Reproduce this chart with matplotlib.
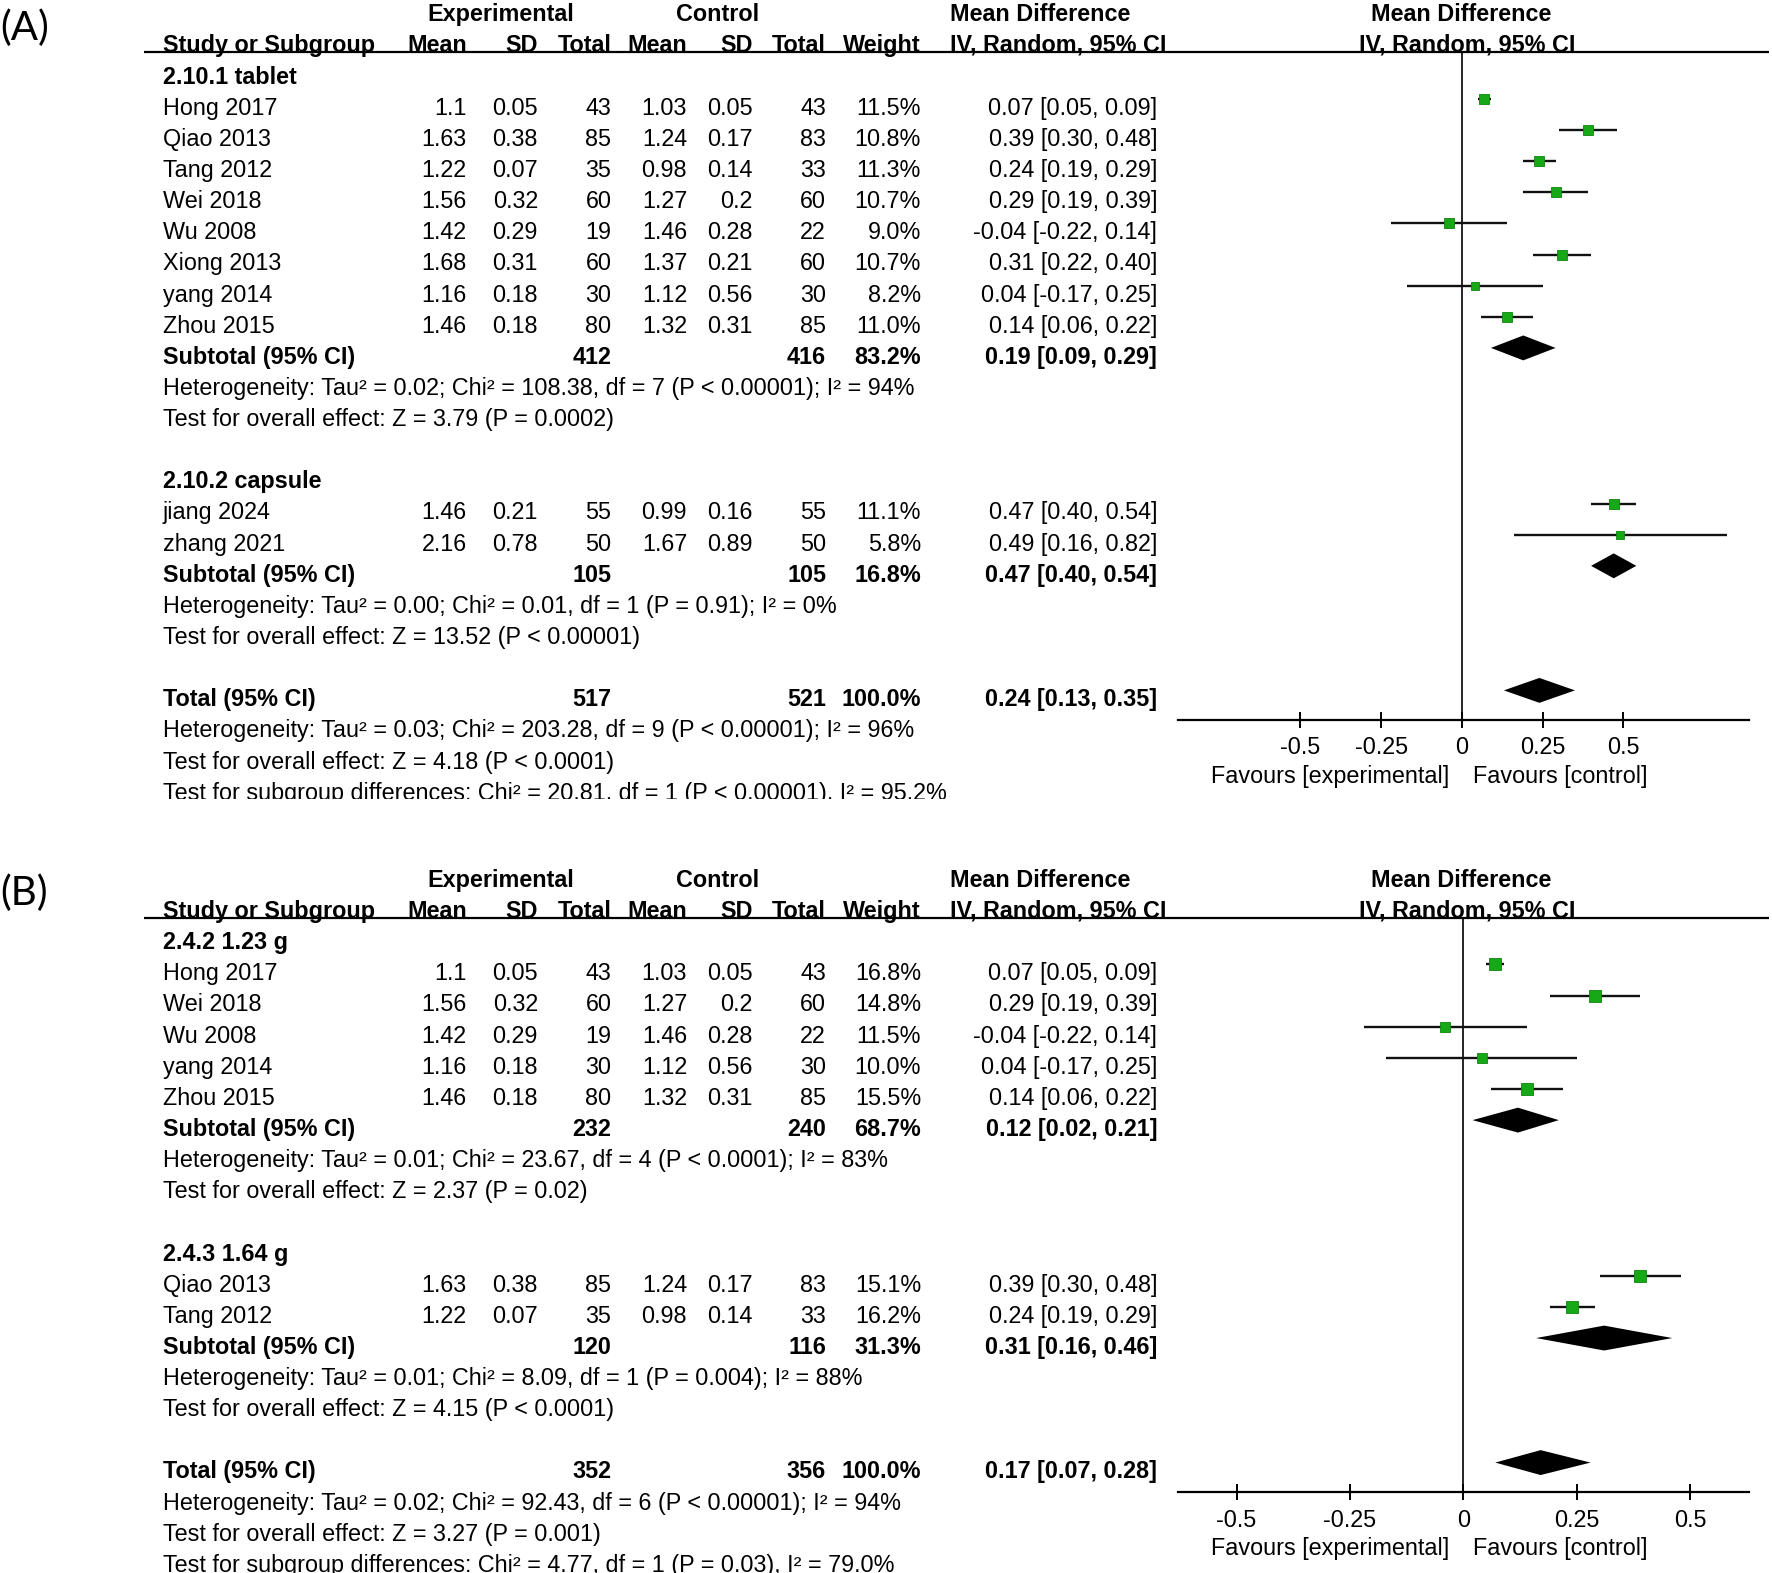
import matplotlib
matplotlib.use("Agg")
import matplotlib.pyplot as plt

plt.rcParams['font.family'] = ['Liberation Sans', 'DejaVu Sans']

# ================= Panel A data =================
A1_title = "2.10.1 tablet"
A1_study = ["Hong 2017", "Qiao 2013", "Tang 2012", "Wei 2018", "Wu 2008", "Xiong 2013", "yang 2014", "Zhou 2015"]
A1_exp_mean = [1.1, 1.63, 1.22, 1.56, 1.42, 1.68, 1.16, 1.46]
A1_exp_sd = [0.05, 0.38, 0.07, 0.32, 0.29, 0.31, 0.18, 0.18]
A1_exp_n = [43, 85, 35, 60, 19, 60, 30, 80]
A1_ctl_mean = [1.03, 1.24, 0.98, 1.27, 1.46, 1.37, 1.12, 1.32]
A1_ctl_sd = [0.05, 0.17, 0.14, 0.2, 0.28, 0.21, 0.56, 0.31]
A1_ctl_n = [43, 83, 33, 60, 22, 60, 30, 85]
A1_weight = [11.5, 10.8, 11.3, 10.7, 9.0, 10.7, 8.2, 11.0]
A1_md = [0.07, 0.39, 0.24, 0.29, -0.04, 0.31, 0.04, 0.14]
A1_lo = [0.05, 0.30, 0.19, 0.19, -0.22, 0.22, -0.17, 0.06]
A1_hi = [0.09, 0.48, 0.29, 0.39, 0.14, 0.40, 0.25, 0.22]
A1_sub_n = [412, 416]
A1_sub_weight = 83.2
A1_sub_ci = [0.19, 0.09, 0.29]
A1_het = "Heterogeneity: Tau² = 0.02; Chi² = 108.38, df = 7 (P < 0.00001); I² = 94%"
A1_z = "Test for overall effect: Z = 3.79 (P = 0.0002)"

A2_title = "2.10.2 capsule"
A2_study = ["jiang 2024", "zhang 2021"]
A2_exp_mean = [1.46, 2.16]
A2_exp_sd = [0.21, 0.78]
A2_exp_n = [55, 50]
A2_ctl_mean = [0.99, 1.67]
A2_ctl_sd = [0.16, 0.89]
A2_ctl_n = [55, 50]
A2_weight = [11.1, 5.8]
A2_md = [0.47, 0.49]
A2_lo = [0.40, 0.16]
A2_hi = [0.54, 0.82]
A2_sub_n = [105, 105]
A2_sub_weight = 16.8
A2_sub_ci = [0.47, 0.40, 0.54]
A2_het = "Heterogeneity: Tau² = 0.00; Chi² = 0.01, df = 1 (P = 0.91); I² = 0%"
A2_z = "Test for overall effect: Z = 13.52 (P < 0.00001)"

A_tot_n = [517, 521]
A_tot_weight = 100.0
A_tot_ci = [0.24, 0.13, 0.35]
A_tot_het = "Heterogeneity: Tau² = 0.03; Chi² = 203.28, df = 9 (P < 0.00001); I² = 96%"
A_tot_z = "Test for overall effect: Z = 4.18 (P < 0.0001)"
A_subdiff = "Test for subgroup differences: Chi² = 20.81, df = 1 (P < 0.00001), I² = 95.2%"
A_ticks = [-0.5, -0.25, 0, 0.25, 0.5]
A_ticklabels = ["-0.5", "-0.25", "0", "0.25", "0.5"]
A_xlim = (-0.88, 0.89)

# ================= Panel B data =================
B1_title = "2.4.2 1.23 g"
B1_study = ["Hong 2017", "Wei 2018", "Wu 2008", "yang 2014", "Zhou 2015"]
B1_exp_mean = [1.1, 1.56, 1.42, 1.16, 1.46]
B1_exp_sd = [0.05, 0.32, 0.29, 0.18, 0.18]
B1_exp_n = [43, 60, 19, 30, 80]
B1_ctl_mean = [1.03, 1.27, 1.46, 1.12, 1.32]
B1_ctl_sd = [0.05, 0.2, 0.28, 0.56, 0.31]
B1_ctl_n = [43, 60, 22, 30, 85]
B1_weight = [16.8, 14.8, 11.5, 10.0, 15.5]
B1_md = [0.07, 0.29, -0.04, 0.04, 0.14]
B1_lo = [0.05, 0.19, -0.22, -0.17, 0.06]
B1_hi = [0.09, 0.39, 0.14, 0.25, 0.22]
B1_sub_n = [232, 240]
B1_sub_weight = 68.7
B1_sub_ci = [0.12, 0.02, 0.21]
B1_het = "Heterogeneity: Tau² = 0.01; Chi² = 23.67, df = 4 (P < 0.0001); I² = 83%"
B1_z = "Test for overall effect: Z = 2.37 (P = 0.02)"

B2_title = "2.4.3 1.64 g"
B2_study = ["Qiao 2013", "Tang 2012"]
B2_exp_mean = [1.63, 1.22]
B2_exp_sd = [0.38, 0.07]
B2_exp_n = [85, 35]
B2_ctl_mean = [1.24, 0.98]
B2_ctl_sd = [0.17, 0.14]
B2_ctl_n = [83, 33]
B2_weight = [15.1, 16.2]
B2_md = [0.39, 0.24]
B2_lo = [0.30, 0.19]
B2_hi = [0.48, 0.29]
B2_sub_n = [120, 116]
B2_sub_weight = 31.3
B2_sub_ci = [0.31, 0.16, 0.46]
B2_het = "Heterogeneity: Tau² = 0.01; Chi² = 8.09, df = 1 (P = 0.004); I² = 88%"
B2_z = "Test for overall effect: Z = 4.15 (P < 0.0001)"

B_tot_n = [352, 356]
B_tot_weight = 100.0
B_tot_ci = [0.17, 0.07, 0.28]
B_tot_het = "Heterogeneity: Tau² = 0.02; Chi² = 92.43, df = 6 (P < 0.00001); I² = 94%"
B_tot_z = "Test for overall effect: Z = 3.27 (P = 0.001)"
B_subdiff = "Test for subgroup differences: Chi² = 4.77, df = 1 (P = 0.03), I² = 79.0%"
B_ticks = [-0.5, -0.25, 0, 0.25, 0.5]
B_ticklabels = ["-0.5", "-0.25", "0", "0.25", "0.5"]
B_xlim = (-0.63, 0.63)


def make_group(title, study, em, es, en, cm, cs, cn, w, md, lo, hi, sub_n, sub_w, sub_ci, het, z):
    return dict(title=title, study=study, em=em, es=es, en=en, cm=cm, cs=cs, cn=cn,
                w=w, md=md, lo=lo, hi=hi, sub_n=sub_n, sub_w=sub_w, sub_ci=sub_ci, het=het, z=z)


groups_A = [
    make_group(A1_title, A1_study, A1_exp_mean, A1_exp_sd, A1_exp_n, A1_ctl_mean, A1_ctl_sd, A1_ctl_n,
               A1_weight, A1_md, A1_lo, A1_hi, A1_sub_n, A1_sub_weight, A1_sub_ci, A1_het, A1_z),
    make_group(A2_title, A2_study, A2_exp_mean, A2_exp_sd, A2_exp_n, A2_ctl_mean, A2_ctl_sd, A2_ctl_n,
               A2_weight, A2_md, A2_lo, A2_hi, A2_sub_n, A2_sub_weight, A2_sub_ci, A2_het, A2_z),
]
groups_B = [
    make_group(B1_title, B1_study, B1_exp_mean, B1_exp_sd, B1_exp_n, B1_ctl_mean, B1_ctl_sd, B1_ctl_n,
               B1_weight, B1_md, B1_lo, B1_hi, B1_sub_n, B1_sub_weight, B1_sub_ci, B1_het, B1_z),
    make_group(B2_title, B2_study, B2_exp_mean, B2_exp_sd, B2_exp_n, B2_ctl_mean, B2_ctl_sd, B2_ctl_n,
               B2_weight, B2_md, B2_lo, B2_hi, B2_sub_n, B2_sub_weight, B2_sub_ci, B2_het, B2_z),
]

# ================= layout =================
W, H = 1772, 1573
DW, DH = 1568.0, 1392.0        # layout grid
FS = 16.8
STEP = 27.55
GREEN = '#17a817'
GREEN_EDGE = '#0d850d'

COL = dict(em=413, es=476, en=541, cm=608, cs=666, cn=731, w=815, md=1024)
X_LEFT = 144
FX0, FX1 = 1042, 1548

fig = plt.figure(figsize=(W / 100, H / 100), dpi=100)


def fmt_ci(v):
    return f"{v[0]:.2f} [{v[1]:.2f}, {v[2]:.2f}]"


def draw_panel(label, groups, tot_n, tot_w, tot_ci, tot_het, tot_z, subdiff,
               ticks, ticklabels, xlim, y_top, y_bot, y0):
    # text layer
    tax = fig.add_axes([0, 1 - y_bot / DH, 1, (y_bot - y_top) / DH])
    tax.set_xlim(0, DW)
    tax.set_ylim(y_bot, y_top)
    tax.axis('off')

    def T(x, y, s, ha='left', bold=False, **kw):
        tax.text(x, y + 8, s, ha=ha, va='baseline', fontsize=FS,
                 fontweight='bold' if bold else 'normal', clip_on=True, **kw)

    tax.text(0, y0 - 44 + 13, label, ha='left', va='baseline', fontsize=29,
             family=['Lato', 'Liberation Sans'], clip_on=True)

    yh1 = y0 - 55
    yh2 = y0 - 28
    T(443, yh1, "Experimental", ha='center', bold=True)
    T(635, yh1, "Control", ha='center', bold=True)
    T(841, yh1, "Mean Difference", bold=True)
    T(1293, yh1, "Mean Difference", ha='center', bold=True)
    T(X_LEFT, yh2, "Study or Subgroup", bold=True)
    for key, s in [('em', 'Mean'), ('es', 'SD'), ('en', 'Total'), ('cm', 'Mean'),
                   ('cs', 'SD'), ('cn', 'Total'), ('w', 'Weight')]:
        T(COL[key], yh2, s, ha='right', bold=True)
    T(841, yh2, "IV, Random, 95% CI", bold=True)
    T(1298, yh2, "IV, Random, 95% CI", ha='center', bold=True)
    tax.plot([127, 1565], [y0 - 20, y0 - 20], color='black', lw=1.6, solid_capstyle='butt')

    # rows
    marks = []   # (row, kind, data)
    r = 0
    for g in groups:
        T(X_LEFT, y0 + STEP * r, g['title'], bold=True)
        r += 1
        for i, name in enumerate(g['study']):
            y = y0 + STEP * r
            T(X_LEFT, y, name)
            T(COL['em'], y, f"{g['em'][i]:g}", ha='right')
            T(COL['es'], y, f"{g['es'][i]:g}", ha='right')
            T(COL['en'], y, f"{g['en'][i]}", ha='right')
            T(COL['cm'], y, f"{g['cm'][i]:g}", ha='right')
            T(COL['cs'], y, f"{g['cs'][i]:g}", ha='right')
            T(COL['cn'], y, f"{g['cn'][i]}", ha='right')
            T(COL['w'], y, f"{g['w'][i]:.1f}%", ha='right')
            T(COL['md'], y, fmt_ci([g['md'][i], g['lo'][i], g['hi'][i]]), ha='right')
            marks.append((r, 'study', (g['md'][i], g['lo'][i], g['hi'][i], g['w'][i])))
            r += 1
        y = y0 + STEP * r
        T(X_LEFT, y, "Subtotal (95% CI)", bold=True)
        T(COL['en'], y, f"{g['sub_n'][0]}", ha='right', bold=True)
        T(COL['cn'], y, f"{g['sub_n'][1]}", ha='right', bold=True)
        T(COL['w'], y, f"{g['sub_w']:.1f}%", ha='right', bold=True)
        T(COL['md'], y, fmt_ci(g['sub_ci']), ha='right', bold=True)
        marks.append((r, 'diamond', g['sub_ci']))
        r += 1
        T(X_LEFT, y0 + STEP * r, g['het'])
        r += 1
        T(X_LEFT, y0 + STEP * r, g['z'])
        r += 2
    y = y0 + STEP * r
    T(X_LEFT, y, "Total (95% CI)", bold=True)
    T(COL['en'], y, f"{tot_n[0]}", ha='right', bold=True)
    T(COL['cn'], y, f"{tot_n[1]}", ha='right', bold=True)
    T(COL['w'], y, f"{tot_w:.1f}%", ha='right', bold=True)
    T(COL['md'], y, fmt_ci(tot_ci), ha='right', bold=True)
    marks.append((r, 'diamond', tot_ci))
    tot_row = r
    T(X_LEFT, y0 + STEP * (r + 1), tot_het)
    T(X_LEFT, y0 + STEP * (r + 2), tot_z)
    T(X_LEFT, y0 + STEP * (r + 3), subdiff)

    # forest plot axes
    axis_y = y0 + STEP * tot_row + 20
    head_y = y0 - 20
    fax = fig.add_axes([FX0 / DW, 1 - axis_y / DH, (FX1 - FX0) / DW, (axis_y - head_y) / DH])
    fax.patch.set_alpha(0)
    fax.set_xlim(*xlim)
    fax.set_ylim((axis_y - y0) / STEP, (head_y - y0) / STEP)
    for s in ['top', 'left', 'right']:
        fax.spines[s].set_visible(False)
    fax.spines['bottom'].set_linewidth(1.6)
    fax.set_yticks([])
    fax.set_xticks(ticks)
    fax.set_xticklabels(ticklabels, fontsize=FS)
    fax.tick_params(axis='x', direction='inout', length=12, width=1.4, pad=6)
    fax.axvline(0, color='black', lw=1.2, zorder=1)

    off = 0.22
    for row, kind, d in marks:
        yy = row - off
        if kind == 'study':
            m, lo, hi, w = d
            fax.plot([lo, hi], [yy, yy], color='#111111', lw=1.7, zorder=2, solid_capstyle='butt')
            fax.plot([m], [yy], marker='s', ms=2.2 * w ** 0.5, color=GREEN,
                     mec=GREEN_EDGE, mew=0.6, zorder=3)
        else:
            m, lo, hi = d
            fax.fill([lo, m, hi, m], [yy, yy - 0.4, yy, yy + 0.4], color='black', lw=0, zorder=3)

    tax.text(1282, axis_y + 48 + 8, "Favours [experimental]", ha='right', va='baseline', fontsize=FS)
    tax.text(1303, axis_y + 48 + 8, "Favours [control]", ha='left', va='baseline', fontsize=FS)


draw_panel("(A)", groups_A, A_tot_n, A_tot_weight, A_tot_ci, A_tot_het, A_tot_z, A_subdiff,
           A_ticks, A_ticklabels, A_xlim, 0, 707, 66)
draw_panel("(B)", groups_B, B_tot_n, B_tot_weight, B_tot_ci, B_tot_het, B_tot_z, B_subdiff,
           B_ticks, B_ticklabels, B_xlim, 766, DH, 832)

fig.savefig("out.png", dpi=100)
